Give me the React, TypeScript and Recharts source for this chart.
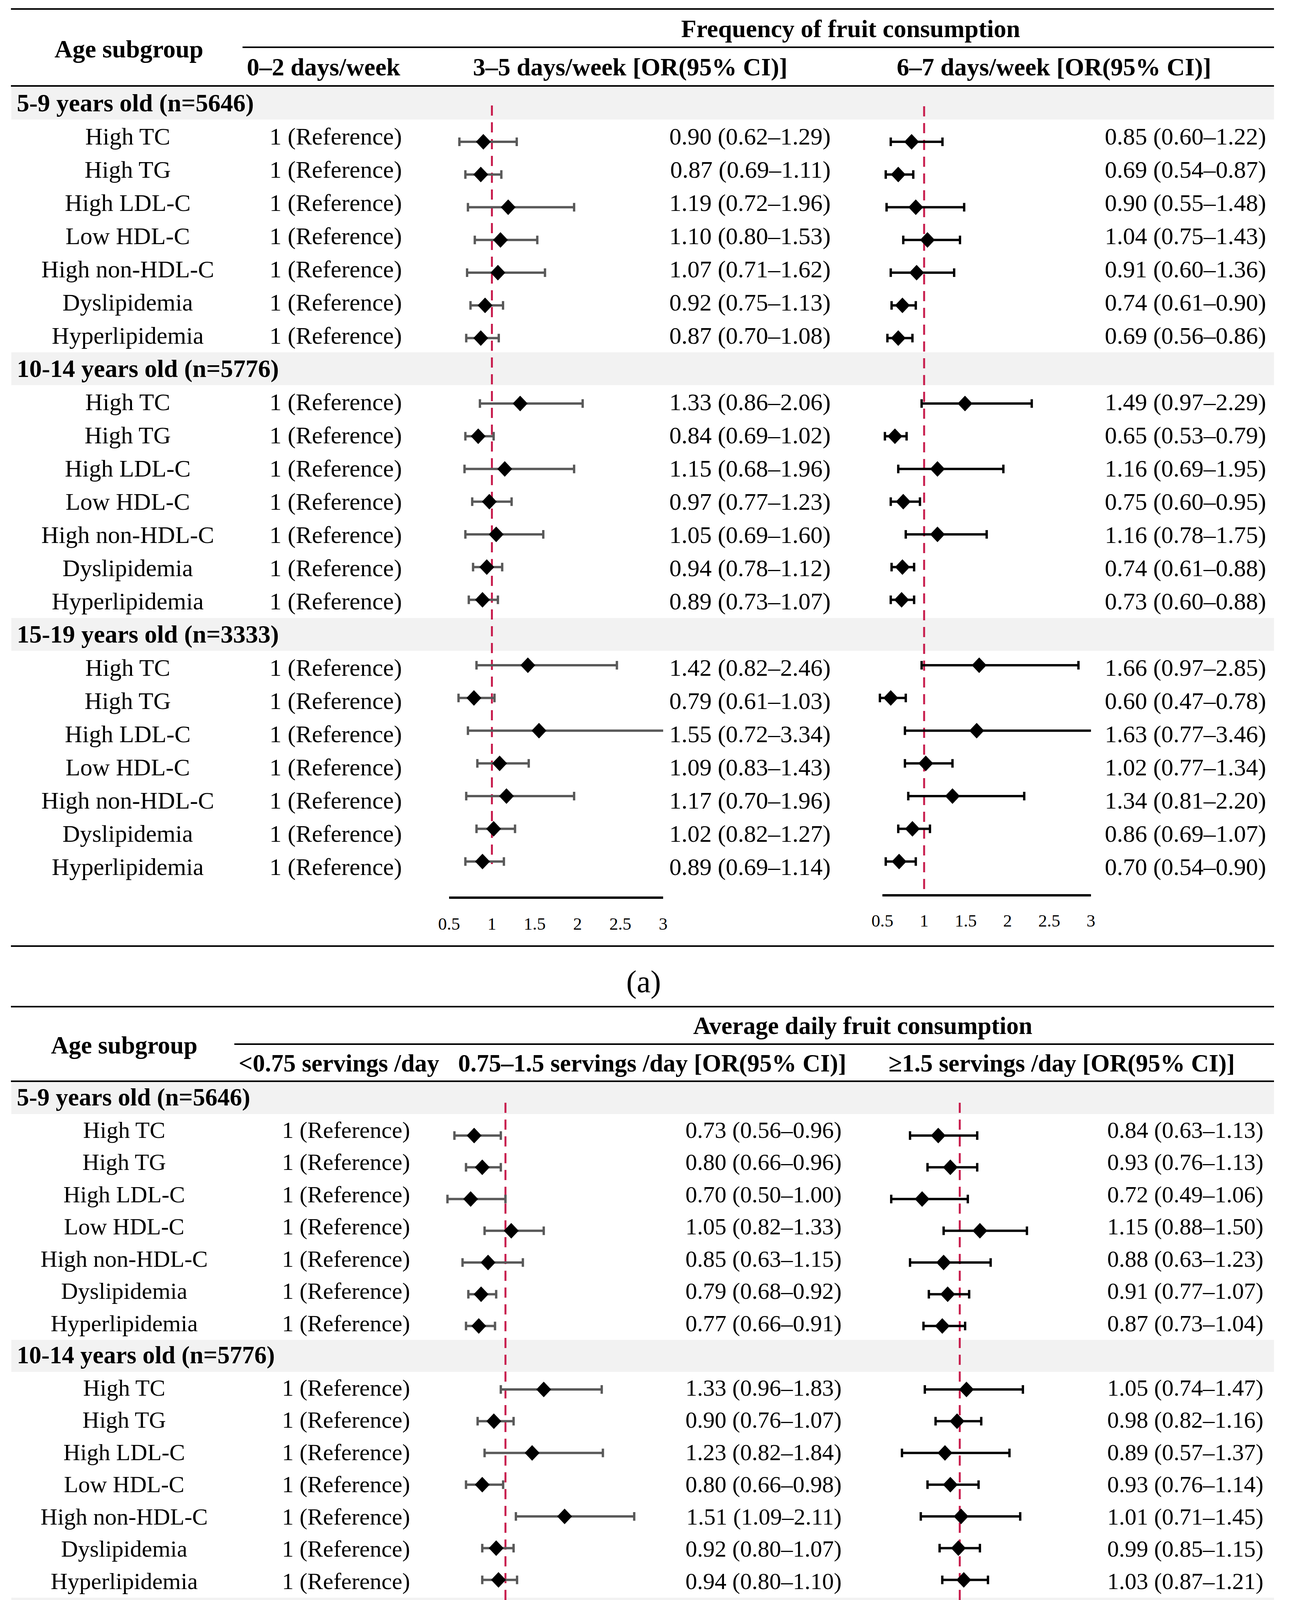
import React from 'react'
import { ScatterChart, Scatter, XAxis, YAxis, ReferenceLine } from 'recharts'

const FONT = "'Liberation Serif', 'Times New Roman', serif"

const ageGroups = ['5-9 years old (n=5646)', '10-14 years old (n=5776)', '15-19 years old (n=3333)']
const outcomes = ['High TC', 'High TG', 'High LDL-C', 'Low HDL-C', 'High non-HDL-C', 'Dyslipidemia', 'Hyperlipidemia']

// (a) frequency of fruit consumption
const freqTitle = 'Frequency of fruit consumption'
const freqHeads = ['0–2 days/week', '3–5 days/week [OR(95% CI)]', '6–7 days/week [OR(95% CI)]']
const freqTicks = [0.5, 1, 1.5, 2, 2.5, 3]

const freqMidOR = [0.90, 0.87, 1.19, 1.10, 1.07, 0.92, 0.87, 1.33, 0.84, 1.15, 0.97, 1.05, 0.94, 0.89, 1.42, 0.79, 1.55, 1.09, 1.17, 1.02, 0.89]
const freqMidLo = [0.62, 0.69, 0.72, 0.80, 0.71, 0.75, 0.70, 0.86, 0.69, 0.68, 0.77, 0.69, 0.78, 0.73, 0.82, 0.61, 0.72, 0.83, 0.70, 0.82, 0.69]
const freqMidHi = [1.29, 1.11, 1.96, 1.53, 1.62, 1.13, 1.08, 2.06, 1.02, 1.96, 1.23, 1.60, 1.12, 1.07, 2.46, 1.03, 3.34, 1.43, 1.96, 1.27, 1.14]

const freqHighOR = [0.85, 0.69, 0.90, 1.04, 0.91, 0.74, 0.69, 1.49, 0.65, 1.16, 0.75, 1.16, 0.74, 0.73, 1.66, 0.60, 1.63, 1.02, 1.34, 0.86, 0.70]
const freqHighLo = [0.60, 0.54, 0.55, 0.75, 0.60, 0.61, 0.56, 0.97, 0.53, 0.69, 0.60, 0.78, 0.61, 0.60, 0.97, 0.47, 0.77, 0.77, 0.81, 0.69, 0.54]
const freqHighHi = [1.22, 0.87, 1.48, 1.43, 1.36, 0.90, 0.86, 2.29, 0.79, 1.95, 0.95, 1.75, 0.88, 0.88, 2.85, 0.78, 3.46, 1.34, 2.20, 1.07, 0.90]

// (b) average daily fruit consumption
const dailyTitle = 'Average daily fruit consumption'
const dailyHeads = ['<0.75 servings /day', '0.75–1.5 servings /day [OR(95% CI)]', '≥1.5 servings /day [OR(95% CI)]']
const dailyMidTicks = [0.5, 1, 1.5, 2, 2.5]
const dailyHighTicks = [0.5, 1, 1.5, 2]

const dailyMidOR = [0.73, 0.80, 0.70, 1.05, 0.85, 0.79, 0.77, 1.33, 0.90, 1.23, 0.80, 1.51, 0.92, 0.94, 1.47, 0.82, 1.09, 0.93, 1.11, 0.91, 0.89]
const dailyMidLo = [0.56, 0.66, 0.50, 0.82, 0.63, 0.68, 0.66, 0.96, 0.76, 0.82, 0.66, 1.09, 0.80, 0.80, 0.99, 0.65, 0.63, 0.74, 0.75, 0.76, 0.72]
const dailyMidHi = [0.96, 0.96, 1.00, 1.33, 1.15, 0.92, 0.91, 1.83, 1.07, 1.84, 0.98, 2.11, 1.07, 1.10, 2.17, 1.04, 1.87, 1.17, 1.63, 1.10, 1.10]

const dailyHighOR = [0.84, 0.93, 0.72, 1.15, 0.88, 0.91, 0.87, 1.05, 0.98, 0.89, 0.93, 1.01, 0.99, 1.03, 1.15, 0.93, 0.96, 0.97, 0.85, 0.97, 0.99]
const dailyHighLo = [0.63, 0.76, 0.49, 0.88, 0.63, 0.77, 0.73, 0.74, 0.82, 0.57, 0.76, 0.71, 0.85, 0.87, 0.72, 0.71, 0.52, 0.75, 0.53, 0.78, 0.77]
const dailyHighHi = [1.13, 1.13, 1.06, 1.50, 1.23, 1.07, 1.04, 1.47, 1.16, 1.37, 1.14, 1.45, 1.15, 1.21, 1.84, 1.21, 1.77, 1.26, 1.35, 1.20, 1.26]

const rowIndex = (i: number) => Math.floor(i / 7) * 8 + 1 + (i % 7)

const buildRows = (or: number[], lo: number[], hi: number[]) =>
  or.map((v, i) => ({ x: v, y: rowIndex(i), lo: lo[i], hi: hi[i] }))

const fmt = (or: number[], lo: number[], hi: number[], i: number) =>
  `${or[i].toFixed(2)} (${lo[i].toFixed(2)}–${hi[i].toFixed(2)})`

const Diamond = (props: any) => {
  const { cx, cy } = props
  if (cx == null || cy == null) return null
  return <polygon points={`${cx},${cy - 20} ${cx + 19},${cy} ${cx},${cy + 20} ${cx - 19},${cy}`} fill="#000" />
}

const SIDE = 50

function ForestPlot({ rows, ticks, domain, lay }: any) {
  const { x05, ppu, rowY0, rowStep, redTop, redBottom, axisY, tickY, color } = lay
  const left = x05 + (domain[0] - 0.5) * ppu - SIDE
  const width = (domain[1] - domain[0]) * ppu + 2 * SIDE
  const plotTop = redTop - 20
  const plotBottom = axisY + 12
  const axisH = tickY - plotBottom + 30
  const height = plotBottom - plotTop + axisH
  const idx = (px: number) => (px - rowY0) / rowStep
  const cap = 11 / rowStep
  const Tick = (p: any) => (
    <text x={p.x} y={p.y + (tickY - plotBottom)} textAnchor="middle" fontFamily={FONT} fontSize={45} fill="#000">
      {p.payload.value}
    </text>
  )
  return (
    <div style={{ position: 'absolute', left, top: plotTop }}>
      <ScatterChart width={width} height={height} margin={{ top: 0, right: SIDE, bottom: 0, left: SIDE }}>
        <XAxis type="number" dataKey="x" domain={domain} allowDataOverflow ticks={ticks} interval={0}
          axisLine={false} tickLine={false} tickSize={0} tickMargin={0} height={axisH} tick={Tick} />
        <YAxis type="number" dataKey="y" domain={[idx(plotTop), idx(plotBottom)]} allowDataOverflow reversed hide />
        <ReferenceLine segment={[{ x: 1, y: idx(redTop) }, { x: 1, y: idx(redBottom) }]}
          stroke="#C81E4E" strokeWidth={5} strokeDasharray="26 17" />
        <ReferenceLine segment={[{ x: 0.5, y: idx(axisY) }, { x: domain[1], y: idx(axisY) }]}
          stroke="#000" strokeWidth={6} />
        {rows.map((r: any) => (
          <React.Fragment key={r.y}>
            <ReferenceLine segment={[{ x: r.lo, y: r.y }, { x: r.hi, y: r.y }]} ifOverflow="hidden" stroke={color} strokeWidth={6} />
            <ReferenceLine segment={[{ x: r.lo, y: r.y - cap }, { x: r.lo, y: r.y + cap }]} ifOverflow="hidden" stroke={color} strokeWidth={6} />
            <ReferenceLine segment={[{ x: r.hi, y: r.y - cap }, { x: r.hi, y: r.y + cap }]} ifOverflow="hidden" stroke={color} strokeWidth={6} />
          </React.Fragment>
        ))}
        <Scatter data={rows} isAnimationActive={false} shape={(p: any) => <Diamond {...p} />} />
      </ScatterChart>
    </div>
  )
}

function Table({ p, title, heads, mid, high }: any) {
  const base = (k: number) => p.textY0 + k * p.textStep
  return (
    <g fontFamily={FONT} fill="#000">
      <rect x={28} y={p.topRule - 2} width={3234} height={4} />
      <text x={p.titleX} y={p.titleY} textAnchor="middle" fontWeight="bold" fontSize={p.boldSize}>{title}</text>
      <rect x={p.subRuleX} y={p.subRuleY - 2} width={3262 - p.subRuleX} height={4} />
      <text x={p.ageX} y={p.ageY} textAnchor="middle" fontWeight="bold" fontSize={p.boldSize}>Age subgroup</text>
      {heads.map((h: string, i: number) => (
        <text key={h} x={p.headX[i]} y={p.headY} fontWeight="bold" fontSize={p.boldSize}>{h}</text>
      ))}
      <rect x={28} y={p.ruleY - 2} width={3234} height={4} />
      {ageGroups.map((g, gi) => (
        <g key={g}>
          <rect x={29} y={p.bandTop + gi * 8 * p.textStep} width={3233} height={p.bandH} fill="#F2F2F2" />
          <text x={43} y={base(gi * 8)} fontWeight="bold" fontSize={p.boldSize}>{g}</text>
        </g>
      ))}
      {mid.or.map((_: number, i: number) => {
        const y = base(rowIndex(i))
        return (
          <g key={i} fontSize={p.regSize}>
            <text x={p.labelX} y={y} textAnchor="middle">{outcomes[i % 7]}</text>
            <text x={p.refX} y={y}>1 (Reference)</text>
            <text x={p.midValX} y={y} textAnchor="end">{fmt(mid.or, mid.lo, mid.hi, i)}</text>
            <text x={p.highValX} y={y} textAnchor="end">{fmt(high.or, high.lo, high.hi, i)}</text>
          </g>
        )
      })}
      <rect x={28} y={p.bottomRule - 2} width={3234} height={4} />
      <text x={p.capX} y={p.capY} textAnchor="middle" fontSize={80}>{p.cap}</text>
    </g>
  )
}

const panelA = {
  topRule: 23, titleX: 2178, titleY: 95, subRuleY: 121, subRuleX: 621, ageX: 330, ageY: 147,
  headY: 193, headX: [632, 1211, 2296], ruleY: 220, bandTop: 222, bandH: 84, textY0: 285, textStep: 85,
  labelX: 327, refX: 690, midValX: 2127, highValX: 3242, regSize: 62, boldSize: 64,
  bottomRule: 2422, capX: 1648, capY: 2540, cap: '(a)',
}
const panelB = {
  topRule: 2577, titleX: 2209, titleY: 2647, subRuleY: 2673, subRuleX: 600, ageX: 318, ageY: 2697,
  headY: 2743, headX: [611, 1173, 2275], ruleY: 2768, bandTop: 2770, bandH: 82, textY0: 2830, textStep: 82.5,
  labelX: 318, refX: 722, midValX: 2155, highValX: 3235, regSize: 60, boldSize: 63,
  bottomRule: 4898, capX: 1644, capY: 5006, cap: '(b)',
}

const plotA1 = { x05: 1150, ppu: 219.2, rowY0: 279.25, rowStep: 83.75, redTop: 270, redBottom: 2212, axisY: 2298, tickY: 2380, color: '#595959' }
const plotA2 = { x05: 2259, ppu: 213.6, rowY0: 279.25, rowStep: 83.75, redTop: 272, redBottom: 2277, axisY: 2292, tickY: 2372, color: '#000' }
const plotB1 = { x05: 1146, ppu: 297, rowY0: 2825.75, rowStep: 81.25, redTop: 2823, redBottom: 4675, axisY: 4778, tickY: 4855, color: '#595959' }
const plotB2 = { x05: 2285, ppu: 344, rowY0: 2825.75, rowStep: 81.25, redTop: 2823, redBottom: 4761, axisY: 4774, tickY: 4853, color: '#000' }

export default function App() {
  const fm = { or: freqMidOR, lo: freqMidLo, hi: freqMidHi }
  const fh = { or: freqHighOR, lo: freqHighLo, hi: freqHighHi }
  const dm = { or: dailyMidOR, lo: dailyMidLo, hi: dailyMidHi }
  const dh = { or: dailyHighOR, lo: dailyHighLo, hi: dailyHighHi }
  return (
    <div style={{ position: 'relative', margin: '-8px 0 0 -8px', width: 3303, height: 5046, background: '#fff', overflow: 'hidden' }}>
      <svg width={3303} height={5046} style={{ position: 'absolute', left: 0, top: 0 }}>
        <Table p={panelA} title={freqTitle} heads={freqHeads} mid={fm} high={fh} />
        <Table p={panelB} title={dailyTitle} heads={dailyHeads} mid={dm} high={dh} />
      </svg>
      <ForestPlot rows={buildRows(freqMidOR, freqMidLo, freqMidHi)} ticks={freqTicks} domain={[0.4, 3]} lay={plotA1} />
      <ForestPlot rows={buildRows(freqHighOR, freqHighLo, freqHighHi)} ticks={freqTicks} domain={[0.4, 3]} lay={plotA2} />
      <ForestPlot rows={buildRows(dailyMidOR, dailyMidLo, dailyMidHi)} ticks={dailyMidTicks} domain={[0.4, 2.5]} lay={plotB1} />
      <ForestPlot rows={buildRows(dailyHighOR, dailyHighLo, dailyHighHi)} ticks={dailyHighTicks} domain={[0.4, 2]} lay={plotB2} />
    </div>
  )
}
